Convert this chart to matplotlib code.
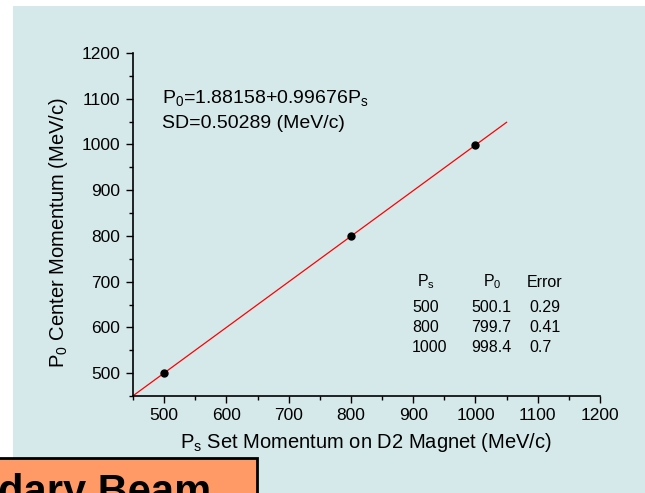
import matplotlib
matplotlib.use('Agg')
import matplotlib.pyplot as plt
from matplotlib.patches import Rectangle
import numpy as np

plt.rcParams['font.family'] = ['Liberation Sans', 'DejaVu Sans']
plt.rcParams['mathtext.fontset'] = 'custom'
plt.rcParams['mathtext.rm'] = 'Liberation Sans'
plt.rcParams['mathtext.it'] = 'Liberation Sans'

# measured points
set_mom = [500, 800, 1000]
center_mom = [500.1, 799.7, 998.4]
errors = [0.29, 0.41, 0.7]

# linear fit
fit_a = 1.88158
fit_b = 0.99676
fit_sd = 0.50289
fit_range = [450, 1050]

xticks = [500, 600, 700, 800, 900, 1000, 1100, 1200]
yticks = [500, 600, 700, 800, 900, 1000, 1100, 1200]

fig = plt.figure(figsize=(6.45, 4.93), dpi=100)
bg_color = '#d5e9ea'
fig.patches.append(Rectangle((13 / 645, 0), 1, 1 - 6 / 493, transform=fig.transFigure,
                             facecolor=bg_color, edgecolor='none', zorder=-5))

ax = fig.add_axes([133 / 645, 97 / 493, 467 / 645, 343 / 493])
ax.set_zorder(1)
ax.patch.set_alpha(0)

xf = np.array(fit_range)
ax.plot(xf, fit_a + fit_b * xf, color='red', linewidth=0.9)
ax.plot(set_mom, center_mom, 'o', color='black', markersize=5)

ax.set_xlim(450, 1200)
ax.set_ylim(450, 1200)
ax.set_xticks(xticks)
ax.set_yticks(yticks)
ax.set_xticks(np.arange(450, 1201, 50), minor=True)
ax.set_yticks(np.arange(450, 1201, 50), minor=True)
ax.tick_params(which='major', direction='out', length=5, width=1, labelsize=12.5, pad=4)
ax.tick_params(which='minor', direction='out', length=3, width=1)
for s in ['top', 'right']:
    ax.spines[s].set_visible(False)
for s in ['left', 'bottom']:
    ax.spines[s].set_linewidth(1.2)

ax.set_xlabel('P$_\\mathrm{s}$ Set Momentum on D2 Magnet (MeV/c)', fontsize=14.5)
ax.set_ylabel('P$_\\mathrm{0}$ Center Momentum (MeV/c)', fontsize=14.5)
ax.xaxis.set_label_coords(0.499, -0.103)
ax.yaxis.set_label_coords(-0.135, 0.478)

ax.text(497, 1102, 'P$_\\mathrm{0}$=%.5f+%.5fP$_\\mathrm{s}$' % (fit_a, fit_b),
        fontsize=14, va='center', ha='left')
ax.text(497, 1046, 'SD=%.5f (MeV/c)' % fit_sd, fontsize=14, va='center', ha='left')

# table
col_x = [898, 993, 1086]
head_y = 699
row_y = [643, 599, 555]
ax.text(906, head_y, 'P$_\\mathrm{s}$', fontsize=11.5, ha='left', va='center')
ax.text(1012, head_y, 'P$_\\mathrm{0}$', fontsize=11.5, ha='left', va='center')
ax.text(1083, head_y, 'Error', fontsize=11.5, ha='left', va='center')
for i in range(len(set_mom)):
    ax.text(col_x[0], row_y[i], str(set_mom[i]), fontsize=11.5, ha='left', va='center')
    ax.text(col_x[1], row_y[i], '%.1f' % center_mom[i], fontsize=11.5, ha='left', va='center')
    ax.text(col_x[2], row_y[i], str(errors[i]), fontsize=11.5, ha='left', va='center')

# orange title box cut off at the bottom
fig.patches.append(Rectangle((-0.01, -0.05), 257 / 645 + 0.01, (493 - 458) / 493 + 0.05,
                             transform=fig.transFigure, facecolor='#ff9966',
                             edgecolor='black', linewidth=2, zorder=3))
fig.text(-2 / 645, -11 / 493, 'dary Beam', fontsize=30, fontweight='bold',
         ha='left', va='baseline', zorder=4)

fig.savefig('out.png', dpi=100)
